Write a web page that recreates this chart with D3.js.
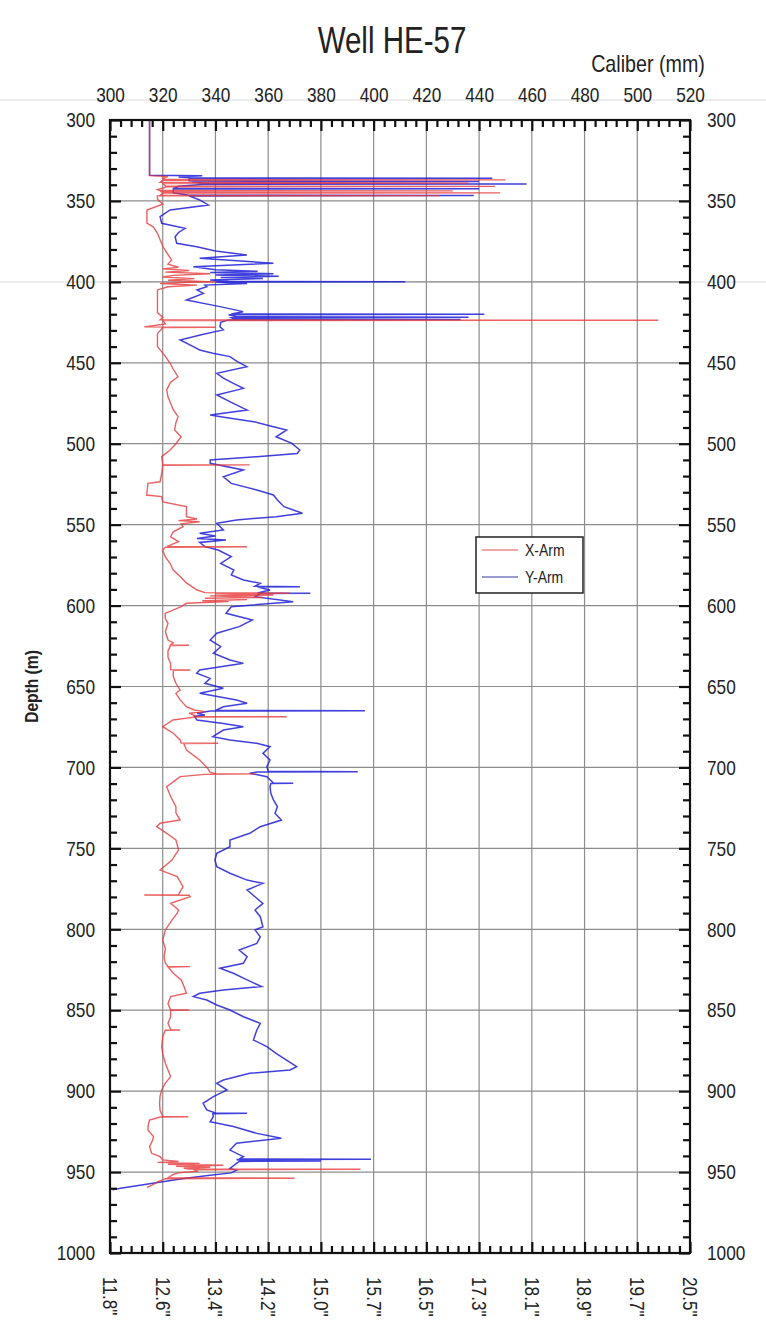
<!DOCTYPE html>
<html>
<head>
<meta charset="utf-8">
<script src="https://cdn.jsdelivr.net/npm/d3@7"></script>
<style>
body { margin: 0; background: #fff; }
svg text { font-family: "Liberation Sans Narrow", "Arial Narrow", "Liberation Sans", Arial, sans-serif; fill: #222; }
</style>
</head>
<body>
<svg id="chart" width="766" height="1331"></svg>
<script>
// caliber axis (mm) and depth axis (m)
var mmTicks = [300, 320, 340, 360, 380, 400, 420, 440, 460, 480, 500, 520];
var inchLabels = ['11.8"', '12.6"', '13.4"', '14.2"', '15.0"', '15.7"', '16.5"', '17.3"', '18.1"', '18.9"', '19.7"', '20.5"'];
var depthTicks = [300, 350, 400, 450, 500, 550, 600, 650, 700, 750, 800, 850, 900, 950, 1000];
var seriesNames = ["X-Arm", "Y-Arm"];

// [depth (m), caliber (mm)]
var xArm = [[300,315],[334.4,315],[335,322],[336,320],[336.8,321],[337,450],[337.2,320],[338.5,319],[339,436],[339.2,320],[340.8,321],[341,446],[341.2,322],[343,318],[343.6,319],[343.8,430],[344,319],[344.8,320],[345,448],[345.2,320],[346.5,319],[346.7,425],[346.9,318],[349,318],[352,320],[355.6,314],[360,314],[363.7,314],[366,316.4],[370,318],[374,319],[378,320],[382,321.5],[386.5,323.4],[389,322],[391,326],[392,320],[393,330],[394,321],[395,338],[396,324],[397,320],[398,332],[399,322],[400,340],[400.5,326],[401,319],[402,333],[403,322],[405,318],[411,318],[419,318],[422,320],[423.5,319],[423.7,508],[423.9,320],[426,321],[427.8,313],[428,340],[428.3,320],[432,318],[440,318],[442,319],[446,321],[450.3,322.8],[454,324],[458.6,325.8],[462,323],[466.8,321.5],[471,322],[475,323],[479,324],[483.3,325.8],[487,325],[491.5,324.5],[495.7,327],[500,325],[503.9,322.8],[508,319.6],[512.9,320],[513.1,353],[513.3,320],[518.3,319.6],[523.5,319],[524.5,314.4],[531.7,313.9],[532.7,319.6],[536,320],[538.9,329],[545.1,329],[546.5,333],[547.5,326],[548.2,334],[549.5,327],[551.3,327.7],[554.4,324],[557.5,323],[560.5,326],[563.4,321.7],[563.7,352],[564,321],[565.7,320],[570,321],[574,322.8],[578,324],[582.1,326.6],[586,329],[590.4,333],[592,336],[592.4,368],[592.8,340],[593.5,362],[594,338],[595,358],[595.5,336],[596.3,352],[597,335],[597.5,345],[598.6,329],[600.7,327],[604.8,320.9],[608,321],[611,322],[616,321],[621.3,322],[623,324],[624.3,323],[624.5,330],[624.7,323],[628,322],[632,322],[635.7,323],[639.6,323],[639.8,330.4],[640,324],[643.9,324],[648,325],[652.2,326.6],[654.2,325],[658.3,326.6],[662.5,329],[664.5,332],[665.5,336],[666.5,330],[668.5,333],[668.7,367],[668.9,332],[670.7,323.9],[674.8,320],[678.9,324],[683,326.6],[684.9,327],[685.1,341],[685.3,328],[689.2,329],[695.4,334],[700.5,337],[703,338],[703.8,340],[704,355],[704.3,336],[705.7,326.6],[707.7,325],[711.9,321.5],[718,323],[724.2,325],[728,325],[732.5,326.6],[734.5,319],[736.6,317.7],[740.7,321.5],[744.8,325],[751,326],[757.2,323.5],[763.4,319],[767.5,325.5],[773.7,327.7],[778.6,326],[778.8,313],[779,330],[779.9,330.4],[783.9,323],[788,326],[790.1,325.5],[794.3,323.5],[800.4,321],[806.6,320],[812,321],[817,320.5],[821,321],[822.9,322],[823.1,330.4],[823.3,322],[827.2,324],[831.3,327],[835,328],[839.5,329],[841.6,323],[846,322],[849.7,323],[849.9,330],[850.1,323],[854,323],[858,322],[862,323],[862.2,326.6],[862.4,321],[866.3,320],[872.5,319.6],[877,320],[882.8,321],[887,322],[891,323],[895,321],[899.3,319.6],[903,319],[907.5,318.8],[912,319],[915.6,320],[915.8,329.7],[916,319],[917.8,315],[921,314.5],[924,314.4],[928.1,316.5],[931,316],[934.3,315],[938.4,315.8],[940.5,319],[942.5,320],[943.5,326],[944,318],[944.6,334],[945.2,322],[945.8,343],[946.4,325],[947,338],[947.6,328],[948.1,330],[948.3,395],[948.6,332],[949.5,333],[950.5,326],[951.5,324],[953.5,322],[953.8,370],[954.1,321],[956,318],[958,316],[959.5,314]];

var yArm = [[300,315],[334.2,315],[334.5,335],[335.2,326],[335.8,332],[336,445],[336.2,330],[337.5,330],[338,440],[338.2,331],[339.4,336],[339.6,458],[339.8,335],[341,326],[342.3,324],[342.5,440],[342.7,324],[345,324],[346.5,330],[346.7,438],[346.9,330],[349.4,334],[352.5,337.3],[355.6,322.8],[359.7,319],[363.8,319.6],[366.9,328.5],[369.5,326],[372.1,324.7],[376.2,325.3],[378.3,332.9],[381,340],[383.4,351.9],[385.4,334],[388.5,362],[390.6,331.6],[392.5,340],[393.5,356],[394.2,338],[395,362],[395.8,340],[396.6,364],[397.3,342],[398,358],[398.8,338],[399.7,345],[399.9,412],[400.1,340],[401,352],[402,336],[403,336.7],[405,333],[407.1,335.4],[411.2,329],[415.3,341.7],[418.4,350.5],[419.8,346],[420,442],[420.3,345],[421.6,348],[421.8,436],[422.1,346],[423,347],[423.2,433],[423.5,345],[425,342],[427.7,341.7],[429.7,343],[432.5,335],[435.9,326.6],[440,331.6],[442.1,334],[444.1,339],[446.2,345.5],[449,348],[452.4,351.9],[456.5,340.5],[459.5,343],[462.7,346.8],[465.8,350.6],[469.9,340.5],[474.5,346],[479.2,352],[482.3,338],[483.3,342],[486.4,354.5],[489.5,362],[491.5,367],[495.7,363],[499.8,369],[503.9,372],[506,371],[508,355.7],[510.1,338],[512.1,338],[516.2,350.6],[520.4,343],[524.5,346],[528.6,355.7],[531.7,362],[534.8,363.5],[538.9,366],[543,373],[545.1,363],[547.1,348],[549.2,340.5],[553.3,343],[555.3,334],[557,340],[558.5,333],[559.5,344],[561,334],[563.6,336],[565.7,341],[569.8,346],[573.9,342],[578,347],[581,346],[584.2,350.6],[586.2,357],[588.1,355],[588.3,372],[588.5,356],[590.4,360.7],[592.2,356],[592.4,376],[592.6,357],[594.5,355],[597.6,369.5],[600.7,346],[604.8,344],[608.9,354],[613,349],[617.1,340.5],[621.3,338],[625.4,342],[629.5,339.2],[633.6,345.5],[635.7,350.6],[639.8,334],[641.8,332.9],[645,338],[648,336],[651.1,343],[654.2,334],[658.3,348],[660.4,352],[662.5,343],[664.8,340],[665,396.7],[665.2,338],[666.5,333],[667.6,336],[668.5,332],[670.7,333],[672.8,343],[674.8,350.6],[676.9,343],[681,339],[683,345.5],[685.1,355.7],[687.2,360.7],[691.3,358],[695.4,360.7],[699.5,359.5],[702.4,360],[702.6,394],[702.8,356],[703.6,353],[705.7,359.5],[709.6,362],[709.8,369.5],[710,361],[711.9,360.7],[716,361],[720.1,362],[724.2,363.5],[728.3,362.6],[732.5,365],[736.6,357],[740.7,353],[744.8,345.5],[749,345.5],[753.1,340.5],[757.2,339.8],[761.3,340.5],[765.4,345.5],[769.6,352],[771.6,358],[775.7,352],[779.9,355],[784,358],[788.1,355],[792.2,357],[798.4,358],[800.4,355],[804.6,357],[808.7,355.7],[812.8,349],[816.9,352],[821,350.6],[824.1,341.7],[827.2,346.8],[831.3,352],[835.4,357.5],[837.5,343],[839.5,334],[841.6,331.6],[843.7,336.7],[846.8,340.5],[849.9,345.5],[854,350.6],[858.1,357],[862.2,355.7],[868.4,354.4],[872.5,359.5],[876.6,363],[880.7,366.8],[884.9,370.8],[886.9,368.3],[889,353],[893.1,343],[895.2,340.5],[899.3,344.4],[903.4,339.2],[907.5,335.3],[911.6,336.7],[913.5,340],[913.7,352],[913.9,339],[915.8,339.2],[918.9,338],[921.9,346.8],[926.1,355.7],[929.1,365],[932.2,348],[936.4,345.5],[940.5,350.6],[941.9,349],[942.1,399],[942.3,348],[943,350],[943.2,380],[943.4,349],[944.6,348],[947.7,345.5],[948.8,348],[950.5,346],[952,338],[954,328],[956,320],[958,312],[960,304],[961,301]];

var margin = {top: 120, right: 76, bottom: 78, left: 110},
    width = 766, height = 1331;

var svg = d3.select("#chart");

var x = d3.scaleLinear().domain([300, 520]).range([margin.left, width - margin.right]);
var y = d3.scaleLinear().domain([300, 1000]).range([margin.top, height - margin.bottom]);

// faint scan streaks across the page
svg.append("g").selectAll("line")
    .data([100, 282])
    .enter().append("line")
    .attr("x1", 0).attr("x2", width)
    .attr("y1", d => d).attr("y2", d => d)
    .attr("stroke", "#ececec").attr("stroke-width", 2);

// grid
svg.append("g").attr("class", "grid")
    .selectAll("line")
    .data(mmTicks.slice(1, -1))
    .enter().append("line")
    .attr("x1", d => x(d)).attr("x2", d => x(d))
    .attr("y1", y(300)).attr("y2", y(1000))
    .attr("stroke", "#8c8c8c").attr("stroke-width", 1.2);

svg.append("g").attr("class", "grid")
    .selectAll("line")
    .data(depthTicks.slice(1, -1))
    .enter().append("line")
    .attr("x1", x(300)).attr("x2", x(520))
    .attr("y1", d => y(d)).attr("y2", d => y(d))
    .attr("stroke", "#8c8c8c").attr("stroke-width", 1.2);

// curves
var line = d3.line()
    .x(d => x(d[1]))
    .y(d => y(d[0]));

svg.append("path")
    .datum(yArm)
    .attr("d", line)
    .attr("fill", "none")
    .attr("stroke", "#1e1ed6")
    .attr("stroke-opacity", 0.85)
    .attr("stroke-width", 1.5);

svg.append("path")
    .datum(xArm)
    .attr("d", line)
    .attr("fill", "none")
    .attr("stroke", "#e6383a")
    .attr("stroke-opacity", 0.8)
    .attr("stroke-width", 1.4);

// minor tick values
var mmMinor = d3.range(300, 520.1, 4).filter(d => d % 20 !== 0);
var depthMinor = d3.range(300, 1000.1, 10).filter(d => d % 50 !== 0);

function styleAxis(g) {
    g.select(".domain").remove();
    g.selectAll(".tick line").attr("stroke", "#111").attr("stroke-width", 2.2);
    g.selectAll(".tick text").attr("font-size", 21).style("fill", "#222");
}

// top axis
svg.append("g")
    .attr("transform", `translate(0,${margin.top})`)
    .call(d3.axisTop(x).tickValues(mmTicks).tickSize(-11).tickPadding(18).tickFormat(d3.format("d")))
    .call(styleAxis);
svg.append("g")
    .attr("transform", `translate(0,${margin.top})`)
    .call(d3.axisTop(x).tickValues(mmMinor).tickSize(-7).tickFormat(""))
    .call(styleAxis);

// bottom axis (inches)
svg.append("g")
    .attr("transform", `translate(0,${height - margin.bottom})`)
    .call(d3.axisBottom(x).tickValues(mmTicks).tickSize(-11).tickFormat((d, i) => inchLabels[i]))
    .call(styleAxis)
    .call(g => g.selectAll(".tick text")
        .attr("transform", "rotate(90)")
        .attr("x", 24)
        .attr("y", 0)
        .attr("dy", "0.36em")
        .style("text-anchor", "start"));
svg.append("g")
    .attr("transform", `translate(0,${height - margin.bottom})`)
    .call(d3.axisBottom(x).tickValues(mmMinor).tickSize(-7).tickFormat(""))
    .call(styleAxis);

// left and right depth axes
svg.append("g")
    .attr("transform", `translate(${margin.left},0)`)
    .call(d3.axisLeft(y).tickValues(depthTicks).tickSize(-11).tickPadding(15).tickFormat(d3.format("d")))
    .call(styleAxis);
svg.append("g")
    .attr("transform", `translate(${margin.left},0)`)
    .call(d3.axisLeft(y).tickValues(depthMinor).tickSize(-7).tickFormat(""))
    .call(styleAxis);
svg.append("g")
    .attr("transform", `translate(${width - margin.right},0)`)
    .call(d3.axisRight(y).tickValues(depthTicks).tickSize(-11).tickPadding(17).tickFormat(d3.format("d")))
    .call(styleAxis);
svg.append("g")
    .attr("transform", `translate(${width - margin.right},0)`)
    .call(d3.axisRight(y).tickValues(depthMinor).tickSize(-7).tickFormat(""))
    .call(styleAxis);

// frame
svg.append("rect")
    .attr("x", x(300)).attr("y", y(300))
    .attr("width", x(520) - x(300)).attr("height", y(1000) - y(300))
    .attr("fill", "none")
    .attr("stroke", "#111")
    .attr("stroke-width", 2.2);

// titles
svg.append("text")
    .attr("x", 392).attr("y", 53)
    .attr("text-anchor", "middle")
    .attr("font-size", 36)
    .text("Well HE-57");

svg.append("text")
    .attr("x", 648).attr("y", 72)
    .attr("text-anchor", "middle")
    .attr("font-size", 24)
    .text("Caliber (mm)");

svg.append("text")
    .attr("transform", `translate(38,${(y(300) + y(1000)) / 2}) rotate(-90)`)
    .attr("text-anchor", "middle")
    .attr("font-size", 19)
    .attr("font-weight", "bold")
    .text("Depth (m)");

// legend
var legend = svg.append("g").attr("transform", "translate(476,537)");
legend.append("rect")
    .attr("width", 107).attr("height", 56)
    .attr("fill", "#fff")
    .attr("stroke", "#222")
    .attr("stroke-width", 1.5);
var legendColors = ["#ec8a8c", "#7a7ac4"];
seriesNames.forEach(function(name, i) {
    legend.append("line")
        .attr("x1", 6).attr("x2", 42)
        .attr("y1", 13 + i * 27).attr("y2", 13 + i * 27)
        .attr("stroke", legendColors[i])
        .attr("stroke-width", 1.5);
    legend.append("text")
        .attr("x", 49).attr("y", 13 + i * 27)
        .attr("dy", "0.35em")
        .attr("font-size", 17)
        .text(name);
});

// squeeze the lettering to look like the narrow face of the original
svg.selectAll("text").each(function() {
    var w = this.getComputedTextLength();
    if (w > 0) {
        d3.select(this)
            .attr("textLength", w * 0.82)
            .attr("lengthAdjust", "spacingAndGlyphs");
    }
});
</script>
</body>
</html>
